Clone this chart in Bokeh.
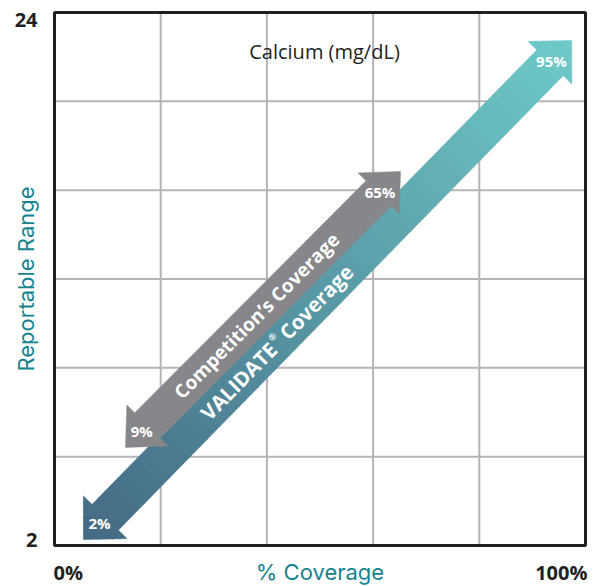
import numpy as np
from bokeh.plotting import figure
from bokeh.models import Range1d
from bokeh.embed import file_html
from bokeh.resources import INLINE
from bokeh.core.properties import value

# ---------------- data ----------------
title_text = "Calcium (mg/dL)"
x_label = "% Coverage"
y_label = "Reportable Range"
x_limits = [0, 100]
y_limits = [2, 24]
x_tick_labels = ["0%", "100%"]
y_tick_labels = ["2", "24"]
x_grid_ticks = [20, 40, 60, 80]
y_grid_ticks = [5.667, 9.333, 13.0, 16.667, 20.333]

# arrow end points (x = % coverage, y = reportable range) and their labels
validate_x = [5.46, 97.4]
validate_y = [2.25, 22.84]
validate_labels = ["2%", "95%"]
validate_name = ["VALIDATE", "®", "Coverage"]

competition_x = [13.37, 65.16]
competition_y = [6.05, 17.44]
competition_labels = ["9%", "65%"]
competition_name = "Competition’s Coverage"

# ---------------- layout ----------------
W, H = 594, 586
BL, BR, BT, BB = 54, 585, 12, 545       # pixel box of the chart area
SX = (BR - BL) / (x_limits[1] - x_limits[0])
SY = (BB - BT) / (y_limits[1] - y_limits[0])

x_start = x_limits[0] - BL / SX
x_end = x_limits[1] + (W - BR) / SX
y_start = y_limits[0] - (H - BB) / SY
y_end = y_limits[1] + BT / SY

p = figure(width=W, height=H, x_range=Range1d(x_start, x_end), y_range=Range1d(y_start, y_end),
           x_axis_type=None, y_axis_type=None, toolbar_location=None,
           output_backend="svg", min_border=0)
p.outline_line_color = None
p.background_fill_color = "white"
p.border_fill_color = "white"

# grid lines inside the chart box
grid_col = "#b4b4b9"
p.segment(x0=x_grid_ticks, y0=[y_limits[0]] * len(x_grid_ticks),
          x1=x_grid_ticks, y1=[y_limits[1]] * len(x_grid_ticks),
          line_color=grid_col, line_width=2)
p.segment(x0=[x_limits[0]] * len(y_grid_ticks), y0=y_grid_ticks,
          x1=[x_limits[1]] * len(y_grid_ticks), y1=y_grid_ticks,
          line_color=grid_col, line_width=2)

# chart border
p.quad(left=[x_limits[0]], right=[x_limits[1]], bottom=[y_limits[0]], top=[y_limits[1]],
       fill_color=None, line_color="#231f20", line_width=3)


def to_px(x, y):
    return np.array([(x - x_limits[0]) * SX, (y - y_limits[0]) * SY])


def to_data(pt):
    return pt[0] / SX + x_limits[0], pt[1] / SY + y_limits[0]


class Arrow:
    def __init__(self, xs, ys, head_len=31.0, head_hw=30.0, shaft_hw=18.0):
        self.P0 = to_px(xs[0], ys[0])
        self.P1 = to_px(xs[1], ys[1])
        d = self.P1 - self.P0
        self.L = float(np.hypot(*d))
        self.u = d / self.L
        self.n = np.array([-self.u[1], self.u[0]])
        self.h, self.Hh, self.w = head_len, head_hw, shaft_hw
        self.angle = float(np.arctan2(d[1], d[0]))

    def pt(self, t, s):
        return to_data(self.P0 + t * self.u + s * self.n)

    def outline(self):
        h, Hh, w, L = self.h, self.Hh, self.w, self.L
        spec = [(0, 0), (h, Hh), (h, w), (L - h, w), (L - h, Hh), (L, 0),
                (L - h, -Hh), (L - h, -w), (h, -w), (h, -Hh)]
        pts = [self.pt(t, s) for t, s in spec]
        return [q[0] for q in pts], [q[1] for q in pts]

    def slices(self, n_head=6, n_shaft=70):
        h, Hh, w, L = self.h, self.Hh, self.w, self.L
        out = []
        for a, b, f, n in [(0, h, lambda t: Hh * t / h, n_head),
                           (h, L - h, lambda t: w, n_shaft),
                           (L - h, L, lambda t: Hh * (L - t) / h, n_head)]:
            ts = np.linspace(a, b, n + 1)
            for ta, tb in zip(ts[:-1], ts[1:]):
                tb2 = min(tb + 0.6, b)
                wa, wb = f(ta), f(tb2)
                pts = [self.pt(ta, wa), self.pt(tb2, wb), self.pt(tb2, -wb), self.pt(ta, -wa)]
                out.append(([q[0] for q in pts], [q[1] for q in pts], (ta + tb) / 2 / L))
        return out


def lerp_color(c0, c1, f):
    c = [int(round(a + (b - a) * f)) for a, b in zip(c0, c1)]
    return "#%02x%02x%02x" % tuple(c)


# ---------------- VALIDATE arrow (gradient) ----------------
va = Arrow(validate_x, validate_y, head_len=31, head_hw=30.5, shaft_hw=18.4)
c_dark = (68, 106, 132)
c_light = (110, 202, 200)
xs_l, ys_l, cols = [], [], []
for sx_, sy_, f in va.slices():
    xs_l.append(sx_)
    ys_l.append(sy_)
    cols.append(lerp_color(c_dark, c_light, f))
p.patches(xs=xs_l, ys=ys_l, fill_color=cols, line_color=cols, line_width=0.6)

# ---------------- Competition arrow ----------------
ca = Arrow(competition_x, competition_y, head_len=31, head_hw=29, shaft_hw=17.8)
cx, cy = ca.outline()
p.patch(x=cx, y=cy, fill_color="#87878b", line_color="#87878b", line_width=0.5)

# ---------------- texts on arrows ----------------
bold = dict(text_font=value("Open Sans"), text_font_style="bold", text_color="white",
            text_baseline="middle")

a1 = va.pt(271, 0)
a2 = va.pt(277, 7)
a3 = va.pt(285, 0)
p.text(x=[a1[0]], y=[a1[1]], text=[validate_name[0]], angle=va.angle, text_align="right",
       text_font_size="20.5px", **bold)
p.text(x=[a2[0]], y=[a2[1]], text=[validate_name[1]], angle=va.angle, text_align="center",
       text_font_size="9px", **bold)
p.text(x=[a3[0]], y=[a3[1]], text=[validate_name[2]], angle=va.angle, text_align="left",
       text_font_size="20.5px", **bold)

gx, gy = ca.pt(ca.L * 0.477, 0)
p.text(x=[gx], y=[gy], text=[competition_name], angle=ca.angle, text_align="center",
       text_font_size="19px", **bold)

lx, ly = [], []
for ar in (va, ca):
    a = ar.pt(23, 0)
    b = ar.pt(ar.L - 29, 0)
    lx += [a[0], b[0]]
    ly += [a[1], b[1]]
p.text(x=lx, y=ly, text=validate_labels + competition_labels, text_align="center",
       text_font_size="15px", **bold)


# ---------------- axis texts ----------------
def fx(px):
    return (px - BL) / SX + x_limits[0]


def fy(py):
    return (BB - py) / SY + y_limits[0]


tick = dict(text_font=value("Open Sans"), text_font_style="bold", text_color="#231f20",
            text_font_size="20px", text_baseline="middle")
p.text(x=[fx(37), fx(37)], y=[fy(19.5), fy(539)], text=[y_tick_labels[1], y_tick_labels[0]],
       text_align="right", **tick)
p.text(x=[fx(53)], y=[fy(572)], text=[x_tick_labels[0]], text_align="left", **tick)
p.text(x=[fx(587)], y=[fy(572)], text=[x_tick_labels[1]], text_align="right", **tick)

teal = "#17838e"
p.text(x=[(x_limits[0] + x_limits[1]) / 2], y=[fy(571)], text=[x_label], text_align="center",
       text_baseline="middle", text_font=value("Inter"), text_font_size="22px", text_color=teal)
p.text(x=[fx(25.5)], y=[(y_limits[0] + y_limits[1]) / 2], text=[y_label], angle=np.pi / 2,
       text_align="center", text_baseline="middle", text_font=value("Inter"),
       text_font_size="22px", text_color=teal)

p.text(x=[fx(324)], y=[fy(50.5)], text=[title_text], text_align="center",
       text_baseline="middle", text_font=value("Open Sans"), text_font_size="20px",
       text_color="#231f20")

open("out.html", "w").write(file_html(p, INLINE))
